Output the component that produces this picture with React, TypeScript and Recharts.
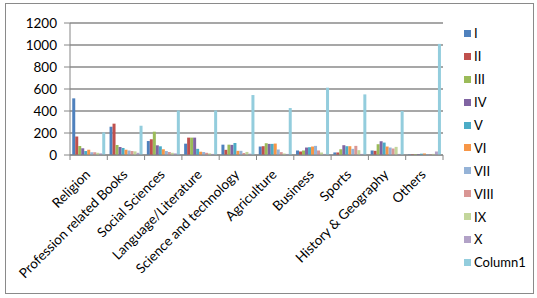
import React from "react";
import { BarChart, Bar, XAxis, YAxis, CartesianGrid } from "recharts";

const categories = [
  "Religion",
  "Profession related Books",
  "Social Sciences",
  "Language/Literature",
  "Science and technology",
  "Agriculture",
  "Business",
  "Sports",
  "History & Geography",
  "Others",
];

const seriesI = [515, 257, 127, 103, 94, 77, 41, 23, 41, 5];
const seriesII = [168, 285, 143, 158, 47, 80, 32, 23, 38, 6];
const seriesIII = [82, 91, 212, 158, 94, 107, 41, 52, 98, 8];
const seriesIV = [61, 73, 88, 158, 92, 101, 68, 89, 125, 8];
const seriesV = [36, 64, 79, 56, 109, 101, 71, 80, 113, 12];
const seriesVI = [48, 48, 52, 30, 38, 104, 77, 80, 77, 14];
const seriesVII = [25, 42, 36, 27, 38, 50, 83, 56, 68, 8];
const seriesVIII = [25, 36, 27, 20, 18, 26, 41, 83, 59, 6];
const seriesIX = [20, 33, 20, 15, 28, 14, 23, 44, 74, 10];
const seriesX = [15, 20, 15, 10, 12, 10, 10, 10, 10, 32];
const column1 = [205, 266, 405, 405, 545, 427, 612, 551, 400, 1010];

const yTicks = [0, 200, 400, 600, 800, 1000, 1200];

const series = [
  { key: "I", values: seriesI, color: "#4F81BD" },
  { key: "II", values: seriesII, color: "#C0504D" },
  { key: "III", values: seriesIII, color: "#9BBB59" },
  { key: "IV", values: seriesIV, color: "#8064A2" },
  { key: "V", values: seriesV, color: "#4BACC6" },
  { key: "VI", values: seriesVI, color: "#F79646" },
  { key: "VII", values: seriesVII, color: "#95B3D7" },
  { key: "VIII", values: seriesVIII, color: "#D99694" },
  { key: "IX", values: seriesIX, color: "#C3D69B" },
  { key: "X", values: seriesX, color: "#B2A2C7" },
  { key: "Column1", values: column1, color: "#93CDDD" },
];

const data = categories.map((name, i) => {
  const row: Record<string, string | number> = { name };
  series.forEach((s) => {
    row[s.key] = s.values[i];
  });
  return row;
});

const FONT = "Lato, 'Open Sans', sans-serif";
const WIDTH = 537;
const HEIGHT = 298;
const PLOT_LEFT = 70;
const PLOT_RIGHT = 443;
const band = (PLOT_RIGHT - PLOT_LEFT) / categories.length;

function CategoryTick(props: any) {
  const { x, y, payload, index } = props;
  const half = band / 2;
  const ox = x - 4;
  const oy = y + 6;
  return (
    <g>
      <line x1={x - half} y1={y - 8} x2={x - half} y2={y - 3} stroke="#868686" />
      {index === categories.length - 1 && (
        <line x1={x + half} y1={y - 8} x2={x + half} y2={y - 3} stroke="#868686" />
      )}
      <text
        x={ox}
        y={oy}
        transform={`rotate(-45 ${ox} ${oy})`}
        textAnchor="end"
        dy={9}
        fontSize={13.5}
        fontFamily={FONT}
        fill="#000"
      >
        {payload.value}
      </text>
    </g>
  );
}

function LegendList() {
  return (
    <div
      style={{
        position: "absolute",
        left: 464,
        top: 22,
        width: 70,
        fontFamily: FONT,
        fontSize: 13,
        color: "#000",
      }}
    >
      {series.map((s) => (
        <div key={s.key} style={{ display: "flex", alignItems: "center", height: 22.9 }}>
          <span style={{ width: 7, height: 7, background: s.color, marginRight: 3, display: "inline-block" }} />
          <span>{s.key}</span>
        </div>
      ))}
    </div>
  );
}

export default function App() {
  return (
    <div style={{ position: "absolute", left: 0, top: 0, width: WIDTH, height: HEIGHT, background: "#fff" }}>
      <div
        style={{
          position: "absolute",
          left: 5,
          top: 3,
          width: 527,
          height: 289,
          border: "1px solid #8a8a8a",
        }}
      />
      <BarChart
        width={WIDTH}
        height={HEIGHT}
        data={data}
        margin={{ top: 23, right: WIDTH - PLOT_RIGHT, bottom: 0, left: 5 }}
        barCategoryGap="6%"
        barGap={0}
      >
        <CartesianGrid vertical={false} stroke="#8a8a8a" strokeWidth={1.4} />
        <XAxis
          dataKey="name"
          interval={0}
          height={143}
          tickLine={false}
          axisLine={{ stroke: "#868686" }}
          tick={<CategoryTick />}
        />
        <YAxis
          width={65}
          domain={[0, 1200]}
          ticks={yTicks}
          interval={0}
          tickSize={6}
          tickMargin={7}
          axisLine={{ stroke: "#868686" }}
          tickLine={{ stroke: "#868686" }}
          tick={{ fontSize: 13.5, fontFamily: FONT, fill: "#000" }}
        />
        {series.map((s) => (
          <Bar key={s.key} dataKey={s.key} fill={s.color} isAnimationActive={false} />
        ))}
      </BarChart>
      <LegendList />
    </div>
  );
}
